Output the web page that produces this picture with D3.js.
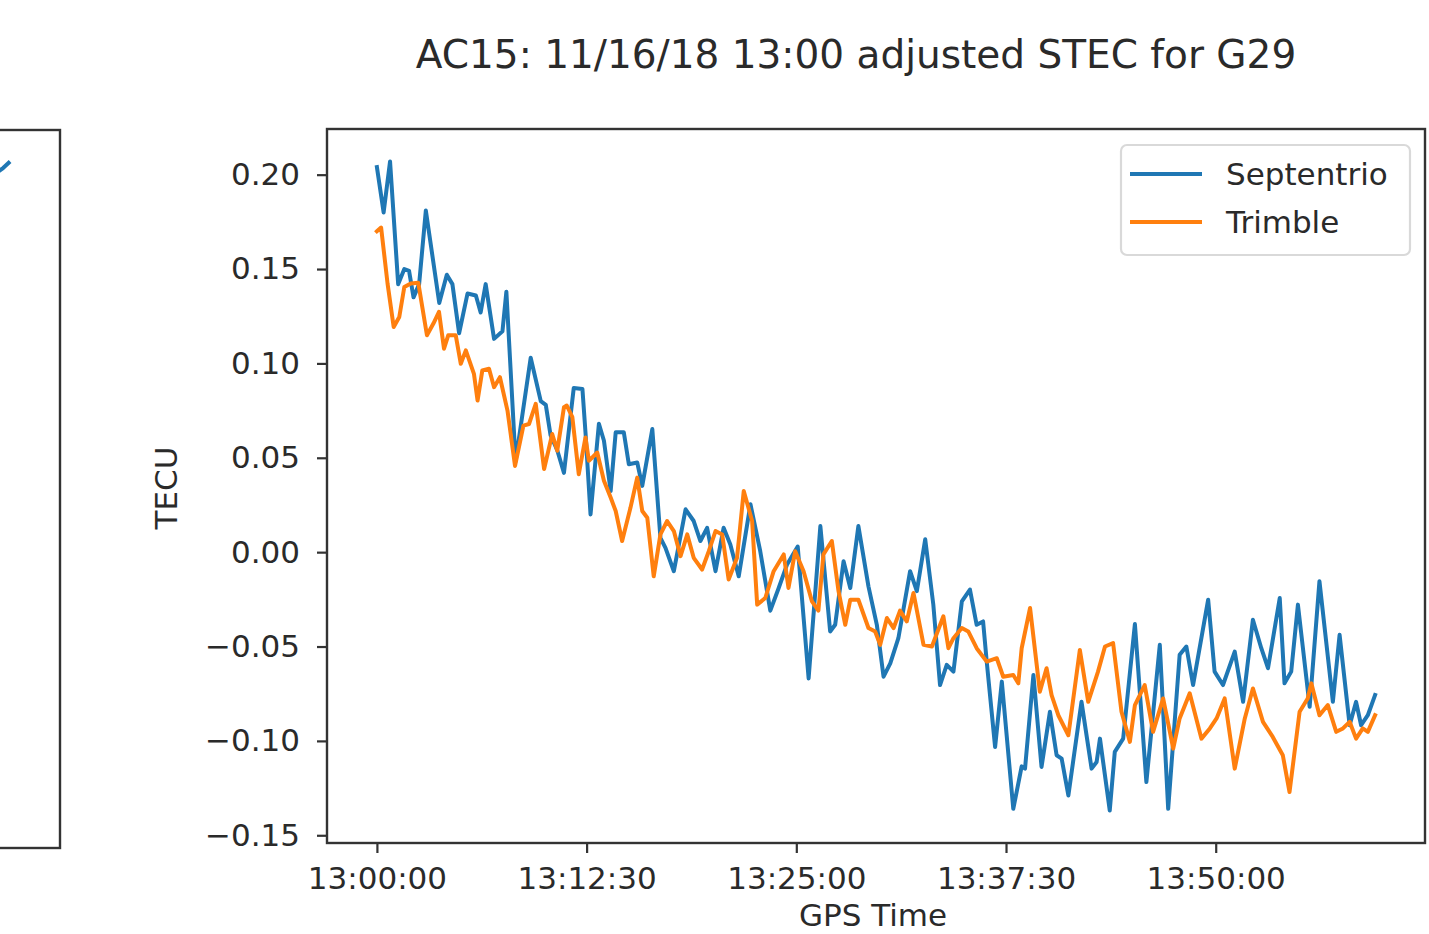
<!DOCTYPE html>
<html>
<head>
<meta charset="utf-8">
<script src="https://cdn.jsdelivr.net/npm/d3@7"></script>
<style>
  html, body { margin: 0; padding: 0; background: #fff; overflow: hidden; }
  svg { display: block; font-family: "DejaVu Sans", sans-serif; }
</style>
</head>
<body>
<svg id="chart" width="1429" height="934"></svg>
<script>
// ---------------- data (seconds after 13:00:00 GPS, TECU) ----------------
const titleText = "AC15: 11/16/18 13:00 adjusted STEC for G29";
const seriesNames = ["Septentrio", "Trimble"];
const seriesColors = ["#1f77b4", "#ff7f0e"];

const septTimes = [0,24,47,76,98,115,131,151,175,223,250,270,294,324,354,371,389,419,449,463,496,550,586,604,621,645,669,704,735,746,764,794,812,836,854,883,901,931,949,985,1014,1032,1062,1104,1133,1157,1181,1211,1240,1264,1294,1336,1371,1407,1437,1467,1505,1544,1586,1621,1639,1669,1693,1722,1758,1788,1812,1836,1865,1907,1931,1961,1990,2014,2038,2062,2092,2121,2145,2168,2181,2211,2235,2276,2306,2318,2348,2377,2407,2431,2449,2473,2520,2556,2574,2586,2621,2639,2669,2711,2752,2800,2830,2871,2895,2919,2973,2996,3026,3068,3098,3133,3163,3187,3229,3246,3270,3294,3336,3371,3419,3443,3479,3502,3520,3544,3570];
const septValues = [0.204,0.180,0.207,0.142,0.150,0.149,0.135,0.142,0.181,0.132,0.147,0.142,0.116,0.137,0.136,0.127,0.142,0.113,0.117,0.138,0.048,0.103,0.080,0.078,0.062,0.054,0.042,0.087,0.0865,0.0635,0.020,0.068,0.059,0.0324,0.0635,0.0635,0.0466,0.0475,0.0351,0.0652,0.0076,0.0023,-0.0101,0.0227,0.0165,0.0059,0.0129,-0.0101,0.0129,0.0041,-0.0128,0.0254,0.0005,-0.031,-0.019,-0.0065,0.003,-0.0669,0.0138,-0.042,-0.0385,-0.0048,-0.019,0.0138,-0.0181,-0.0385,-0.066,-0.0589,-0.0456,-0.0101,-0.0207,0.0068,-0.0278,-0.0704,-0.0597,-0.0633,-0.0261,-0.0198,-0.0385,-0.0367,-0.058,-0.1032,-0.0686,-0.136,-0.1135,-0.1147,-0.0651,-0.1138,-0.0846,-0.1076,-0.1094,-0.1289,-0.0793,-0.1147,-0.1112,-0.0988,-0.1369,-0.1058,-0.0988,-0.0381,-0.1218,-0.0491,-0.136,-0.0544,-0.05,-0.0704,-0.0252,-0.0633,-0.0704,-0.0527,-0.0793,-0.0358,-0.0509,-0.0615,-0.0243,-0.0695,-0.0633,-0.0278,-0.0819,-0.0154,-0.0793,-0.0438,-0.0917,-0.0793,-0.0917,-0.0864,-0.0757];

const trimTimes = [0,15,38,60,80,98,121,148,179,202,222,240,255,282,300,318,347,360,377,401,419,440,467,494,524,544,568,598,627,645,669,679,699,722,746,758,788,812,836,854,877,907,931,949,967,990,1014,1038,1062,1086,1110,1133,1163,1187,1211,1235,1258,1288,1312,1342,1360,1389,1419,1455,1472,1496,1526,1556,1579,1597,1627,1651,1675,1693,1722,1758,1782,1800,1824,1848,1871,1895,1919,1955,1985,2026,2044,2062,2092,2115,2145,2181,2217,2240,2276,2294,2306,2336,2371,2395,2413,2437,2473,2514,2544,2579,2604,2633,2663,2693,2711,2746,2776,2812,2848,2871,2907,2949,2979,3003,3032,3068,3104,3133,3169,3204,3240,3264,3300,3329,3342,3371,3401,3431,3455,3479,3502,3526,3544,3570];
const trimValues = [0.170,0.172,0.1424,0.1193,0.1246,0.1405,0.1424,0.1427,0.1149,0.1211,0.1273,0.1078,0.1149,0.1149,0.0998,0.1069,0.0945,0.0803,0.0963,0.0972,0.0874,0.0927,0.075,0.0457,0.067,0.0679,0.0786,0.044,0.0626,0.0537,0.0768,0.0777,0.0715,0.0413,0.0608,0.0484,0.0528,0.0378,0.0289,0.0218,0.0059,0.0236,0.0395,0.0218,0.0182,-0.0128,0.0094,0.0165,0.0112,-0.0021,0.0094,-0.003,-0.0092,0.0005,0.0112,0.0094,-0.0145,-0.003,0.0324,0.0165,-0.0278,-0.0243,-0.0101,-0.0012,-0.019,0.0005,-0.0101,-0.0261,-0.031,-0.0012,0.0059,-0.0207,-0.0385,-0.0252,-0.0252,-0.0402,-0.042,-0.0491,-0.0349,-0.0402,-0.031,-0.0367,-0.0216,-0.0491,-0.05,-0.034,-0.0509,-0.0456,-0.0402,-0.042,-0.0509,-0.058,-0.0562,-0.066,-0.0651,-0.0695,-0.0509,-0.0296,-0.074,-0.0615,-0.0757,-0.0864,-0.097,-0.0518,-0.0793,-0.0633,-0.05,-0.0482,-0.0846,-0.1005,-0.081,-0.0704,-0.0952,-0.0775,-0.1041,-0.0881,-0.0748,-0.0988,-0.0934,-0.0881,-0.0775,-0.1147,-0.0881,-0.0722,-0.0899,-0.0979,-0.1076,-0.1271,-0.0846,-0.0775,-0.0695,-0.0864,-0.081,-0.0952,-0.0934,-0.0899,-0.0988,-0.0934,-0.0952,-0.0864];

// tail of the neighbouring (cropped) panel on the left
const leftTimes = [3520, 3545, 3570];
const leftValues = [0.94, 0.947, 0.956];

const yTickValues = [-0.15, -0.10, -0.05, 0.00, 0.05, 0.10, 0.15, 0.20];
const xTickSeconds = [0, 750, 1500, 2250, 3000];
const xTickLabels = ["13:00:00", "13:12:30", "13:25:00", "13:37:30", "13:50:00"];

// ---------------- layout ----------------
const svg = d3.select("#chart");
const ax = { left: 327, right: 1425, top: 129, bottom: 843 };
const textColor = "#2a2a2a";
const spineColor = "#333";
const fontTick = 31;
const lineW = 4;

function padDomain(lo, hi) { const m = (hi - lo) * 0.05; return [lo - m, hi + m]; }

const allT = septTimes.concat(trimTimes);
const allV = septValues.concat(trimValues);
const x = d3.scaleLinear().domain(padDomain(d3.min(allT), d3.max(allT))).range([ax.left, ax.right]);
const y = d3.scaleLinear().domain(padDomain(d3.min(allV), d3.max(allV))).range([ax.bottom, ax.top]);

svg.append("rect").attr("width", 1429).attr("height", 934).attr("fill", "#fff");

// ---------- left cropped panel ----------
const lp = { left: ax.left - (ax.right - 60), right: 60, top: 130, bottom: 848 };
const lx = d3.scaleLinear().domain(x.domain()).range([lp.left, lp.right]);
const ly = d3.scaleLinear().domain([0, 1]).range([lp.bottom, lp.top]);
svg.append("clipPath").attr("id", "lclip").append("rect")
  .attr("x", lp.left).attr("y", lp.top).attr("width", lp.right - lp.left).attr("height", lp.bottom - lp.top);
svg.append("path")
  .datum(leftTimes.map((t, i) => [t, leftValues[i]]))
  .attr("clip-path", "url(#lclip)")
  .attr("fill", "none").attr("stroke", seriesColors[0]).attr("stroke-width", lineW)
  .attr("stroke-linejoin", "round")
  .attr("d", d3.line().x(d => lx(d[0])).y(d => ly(d[1])));
svg.append("rect")
  .attr("x", lp.left).attr("y", lp.top).attr("width", lp.right - lp.left).attr("height", lp.bottom - lp.top)
  .attr("fill", "none").attr("stroke", spineColor).attr("stroke-width", 2.4);

// ---------- main panel lines ----------
svg.append("clipPath").attr("id", "mclip").append("rect")
  .attr("x", ax.left).attr("y", ax.top).attr("width", ax.right - ax.left).attr("height", ax.bottom - ax.top);

const line = d3.line().x(d => x(d[0])).y(d => y(d[1])).curve(d3.curveLinear);
const series = [
  septTimes.map((t, i) => [t, septValues[i]]),
  trimTimes.map((t, i) => [t, trimValues[i]])
];
series.forEach((s, k) => {
  svg.append("path").datum(s)
    .attr("clip-path", "url(#mclip)")
    .attr("fill", "none").attr("stroke", seriesColors[k])
    .attr("stroke-width", lineW).attr("stroke-linejoin", "round").attr("stroke-linecap", "square")
    .attr("d", line);
});

// ---------- axes ----------
const yAxis = d3.axisLeft(y).tickValues(yTickValues).tickFormat(d3.format(".2f")).tickSize(10).tickPadding(17);
const gy = svg.append("g").attr("transform", `translate(${ax.left},0)`).call(yAxis);
const xAxis = d3.axisBottom(x).tickValues(xTickSeconds).tickFormat((d, i) => xTickLabels[i]).tickSize(10).tickPadding(14);
const gx = svg.append("g").attr("transform", `translate(0,${ax.bottom})`).call(xAxis);
[gx, gy].forEach(g => {
  g.select(".domain").remove();
  g.selectAll(".tick line").attr("stroke", spineColor).attr("stroke-width", 2.2);
  g.selectAll(".tick text").attr("fill", textColor).attr("font-size", fontTick)
    .attr("font-family", "DejaVu Sans, sans-serif");
});

// frame
svg.append("rect")
  .attr("x", ax.left).attr("y", ax.top).attr("width", ax.right - ax.left).attr("height", ax.bottom - ax.top)
  .attr("fill", "none").attr("stroke", spineColor).attr("stroke-width", 2.4);

// title & labels
svg.append("text").attr("x", 856).attr("y", 68).attr("text-anchor", "middle")
  .attr("font-size", 39).attr("fill", textColor).text(titleText);
svg.append("text").attr("transform", `translate(177,${(ax.top + ax.bottom) / 2 + 2}) rotate(-90)`)
  .attr("text-anchor", "middle").attr("font-size", fontTick).attr("fill", textColor).text("TECU");
svg.append("text").attr("x", 873).attr("y", 926).attr("text-anchor", "middle")
  .attr("font-size", fontTick).attr("fill", textColor).text("GPS Time");

// legend
const lg = svg.append("g").attr("transform", "translate(1121,145)");
lg.append("rect").attr("width", 289).attr("height", 110).attr("rx", 6)
  .attr("fill", "#fff").attr("fill-opacity", 0.8).attr("stroke", "#d9d9d9").attr("stroke-width", 2.2);
seriesNames.forEach((name, i) => {
  const yy = 29 + i * 48;
  lg.append("line").attr("x1", 9).attr("x2", 81).attr("y1", yy).attr("y2", yy)
    .attr("stroke", seriesColors[i]).attr("stroke-width", lineW);
  lg.append("text").attr("x", 105).attr("y", yy).attr("dy", "0.35em")
    .attr("font-size", fontTick).attr("fill", textColor).text(name);
});
</script>
</body>
</html>
